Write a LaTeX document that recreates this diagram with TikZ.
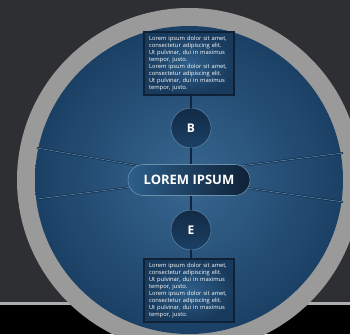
\documentclass[tikz,border=0pt]{standalone}
\usepackage{fontspec}
\setmainfont{Open Sans}
\usetikzlibrary{positioning}
\definecolor{bgdark}{HTML}{2E2F33}
\definecolor{ringgray}{HTML}{9A9A9A}
\definecolor{bluelight}{HTML}{2D5F8B}
\definecolor{bluedark}{HTML}{1B4065}
\definecolor{navy}{HTML}{0E2136}
\definecolor{linkblue}{HTML}{0F2540}
\definecolor{spoke}{HTML}{4A7CA6}
\tikzset{
  txtbox/.style={draw=navy, line width=1.2pt, inner color=bluelight, outer color=bluedark!80!navy,
    minimum width=90, minimum height=63, text width=80, align=left, text=white,
    font=\fontsize{5.8}{6.9}\selectfont, inner sep=0pt},
  letter/.style={draw=bluelight!80!white, line width=0.6pt, circle, minimum size=40,
    top color=navy!70!bluedark, bottom color=bluedark, text=white, font=\bfseries\fontsize{12}{12}\selectfont},
  link/.style={linkblue, line width=1.4pt},
  spokeshade/.style={navy, line width=1.8pt},
  spokeline/.style={spoke, line width=0.8pt}
}
\begin{document}
\begin{tikzpicture}[x=1pt,y=-1pt]
      \useasboundingbox (0,0) rectangle (350,334);
      \clip (0,0) rectangle (350,334);
      \fill [bgdark] (0,0) rectangle (350,302);
      \fill [ringgray!80] (0,302) rectangle (350,305);
      \fill [black] (0,305) rectangle (350,334);

      \fill [ringgray] (189,180) circle (172);
      \shade [inner color=bluelight!95!white, outer color=bluedark] (189,180) circle (154);

      % spokes, behind the hub
      \coordinate (ul) at (37,148);
      \coordinate (ll) at (37,199);
      \coordinate (ur) at (343,153);
      \coordinate (lr) at (343,202);
      \coordinate (ul0) at (140,166);
      \coordinate (ll0) at (140,186);
      \coordinate (ur0) at (240,166);
      \coordinate (lr0) at (240,187);
      \foreach \s/\t in {ul0/ul, ll0/ll, ur0/ur, lr0/lr} {
        \draw [spokeshade] (\s) -- (\t);
        \draw [spokeline] (\s) -- (\t);
      }

      \node (top) [txtbox] at (189,63.5) {Lorem ipsum dolor sit amet,\\consectetur adipiscing elit.\\Ut pulvinar, dui in maximus\\tempor, justo.\\Lorem ipsum dolor sit amet,\\consectetur adipiscing elit.\\Ut pulvinar, dui in maximus\\tempor, justo.};
      \node (bot) [txtbox] at (189,290.5) {Lorem ipsum dolor sit amet,\\consectetur adipiscing elit.\\Ut pulvinar, dui in maximus\\tempor, justo.\\Lorem ipsum dolor sit amet,\\consectetur adipiscing elit.\\Ut pulvinar, dui in maximus\\tempor, justo.};
      \node (b) [letter] at (191,128) {B};
      \node (e) [letter] at (191,230) {E};
      \node (hub) [draw=bluelight!70!white, line width=0.6pt, rounded corners=15.5, minimum width=122,
        minimum height=31, left color=bluelight, right color=navy, text=white,
        font=\bfseries\fontsize{13}{13}\selectfont] at (189,180) {LOREM IPSUM};

      \draw [link] (top.south -| b) -- (b.north);
      \draw [link] (b.south) -- (b.south |- hub.north);
      \draw [link] (b.south |- hub.south) -- (e.north);
      \draw [link] (e.south) -- (e.south |- bot.north);
    \end{tikzpicture}
\end{document}
